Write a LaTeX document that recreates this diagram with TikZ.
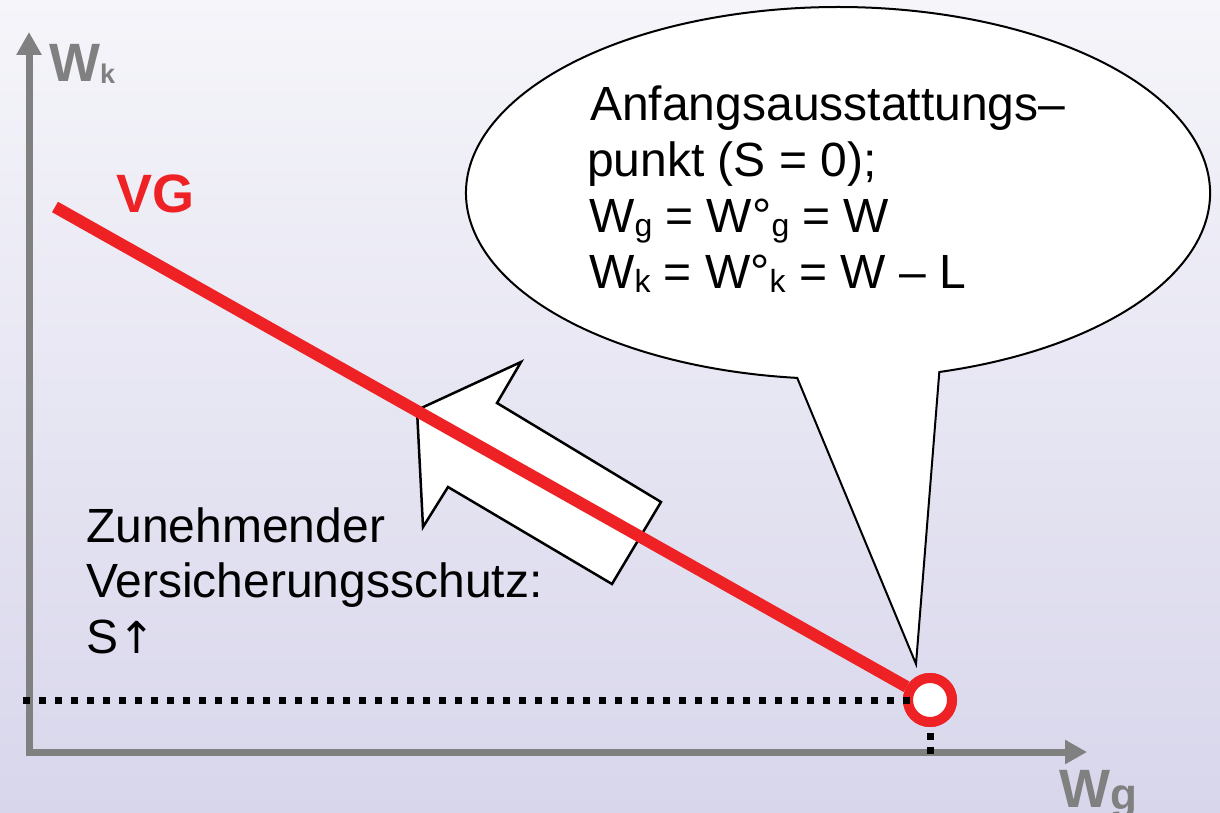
\documentclass[tikz,border=0pt]{standalone}
\usepackage{fontspec}
\setmainfont{Liberation Sans}
\newfontfamily\arrowfont{DejaVu Sans}
\usetikzlibrary{arrows.meta}
\definecolor{bgtop}{RGB}{245,245,250}
\definecolor{bgbot}{RGB}{216,214,235}
\definecolor{axisgray}{RGB}{128,128,128}
\definecolor{vgred}{RGB}{238,34,36}
\newcommand{\subtxt}[1]{\raisebox{-4pt}{\fontsize{32}{32}\selectfont #1}}
\begin{document}
\begin{tikzpicture}[x=1pt,y=-1pt,
  axisline/.style={draw=axisgray,line width=7pt,line join=miter},
  callout/.style={draw=black,fill=white,line width=2pt,line join=miter},
  bigarrow/.style={draw=black,fill=white,line width=2.5pt,line join=miter},
  redline/.style={draw=vgred,line width=12pt},
  dotline/.style={draw=black,line width=7pt,dash pattern=on 7pt off 9pt},
  vdotline/.style={draw=black,line width=7pt,dash pattern=on 7pt off 7pt},
  txt/.style={inner sep=0pt,anchor=base west,font=\fontsize{48}{48}\selectfont},
  axlabel/.style={inner sep=0pt,anchor=base west,text=axisgray,font=\bfseries\fontsize{54}{54}\selectfont}]
\useasboundingbox (0,0) rectangle (1220,813);
\shade[top color=bgtop,bottom color=bgbot] (0,0) rectangle (1220,813);
% axes
\coordinate (ytip) at (29,32);
\coordinate (origin) at (29,752);
\coordinate (xtip) at (1087,752);
\draw[axisline,{Triangle[length=23pt,width=24pt]}-{Triangle[length=22pt,width=23pt]}] (ytip) -- (origin) -- (xtip);
% callout
\coordinate (tip) at (916,664);
\draw[callout] (939.3,372) arc[start angle=74.2,end angle=-263.7,x radius=372,y radius=186] -- (tip) -- cycle;
% big white arrow
\draw[bigarrow] (417,410) -- (521,362) -- (497,403) -- (661,502) -- (612,584) -- (448,487) -- (423,527) -- cycle;
% red line and point
\coordinate (vgstart) at (55,207);
\node[circle,draw=vgred,line width=10pt,fill=white,minimum size=44pt,inner sep=0pt] (pt) at (930,700) {};
\draw[redline] (vgstart) -- (pt);
\node[circle,draw=vgred,line width=10pt,fill=white,minimum size=44pt,inner sep=0pt] at (pt.center) {};
% dotted lines
\coordinate (hdot) at (23,700);
\coordinate (hdotend) at (911,700);
\coordinate (vdot) at (930,733);
\coordinate (vdotend) at (930,754);
\draw[dotline] (hdot) -- (hdotend);
\draw[vdotline] (vdot) -- (vdotend);
% labels
\node[axlabel] (wk) at (49,82) {W\raisebox{-2pt}{\fontsize{27}{27}\selectfont k}};
\node[axlabel] (wg) at (1059,807) {W\raisebox{-2pt}{\fontsize{44}{44}\selectfont g}};
\node[axlabel,text=vgred] (vg) at (116,212) {VG};
\node[txt] (t1) at (590,121) {Anfangsausstattungs–};
\node[txt] (t2) at (587,177) {punkt (S = 0);};
\node[txt] (t3) at (589,232) {W\subtxt{g} = W°\subtxt{g} = W};
\node[txt] (t4) at (589,288) {W\subtxt{k} = W°\subtxt{k} = W – L};
\node[txt] (z1) at (86,542) {Zunehmender};
\node[txt] (z2) at (86,597) {Versicherungsschutz:};
\node[txt] (z3) at (86,653) {S{\arrowfont\fontsize{44}{44}\selectfont ↑}};
\end{tikzpicture}
\end{document}
